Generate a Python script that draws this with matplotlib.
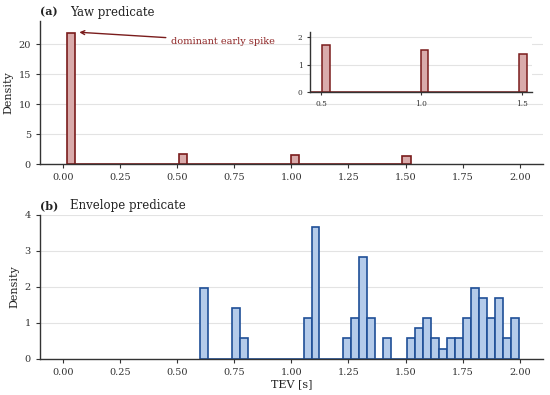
import numpy as np
import matplotlib
matplotlib.use("Agg")
import matplotlib.pyplot as plt

# yaw predicate: histogram bins (40 equal bins) and the occupied bins
yaw_range = (0.0175, 1.524)
yaw_n_bins = 40
yaw_tev = [0.036, 0.525, 1.017, 1.505]
yaw_counts = [315, 25, 22, 20]

# envelope predicate: 40 equal bins, counts per bin
env_range = (0.600, 1.995)
env_counts = [7, 0, 0, 0, 5, 2, 0, 0, 0, 0,
              0, 0, 0, 4, 13, 0, 0, 0, 2, 4,
              10, 4, 0, 2, 0, 0, 2, 3, 4, 2,
              1, 2, 2, 4, 7, 6, 4, 6, 2, 4]

xticks = [0.00, 0.25, 0.50, 0.75, 1.00, 1.25, 1.50, 1.75, 2.00]

plt.rcParams["font.family"] = ["DejaVu Serif"]

red_edge = "#7a1c1c"
red_face = "#d9abab"
blue_edge = "#1f4f97"
blue_face = "#b4cbea"
spine_col = "#333333"
grid_col = "#e3e3e3"
txt_col = "#222222"


def style(ax, fs=7):
    for s in ["top", "right"]:
        ax.spines[s].set_visible(False)
    for s in ["left", "bottom"]:
        ax.spines[s].set_color(spine_col)
        ax.spines[s].set_linewidth(1.0)
    ax.grid(axis="y", color=grid_col, lw=0.8)
    ax.set_axisbelow(True)
    ax.tick_params(labelsize=fs, colors="#333333", length=3, width=0.8)


fig = plt.figure(figsize=(5.5, 3.95), dpi=100)

# panel (a)
ax1 = fig.add_axes([0.0727, 0.584, 0.914, 0.3636])
yaw_edges = np.linspace(yaw_range[0], yaw_range[1], yaw_n_bins + 1)
ax1.hist(yaw_tev, bins=yaw_edges, weights=yaw_counts, density=True,
         color=red_face, edgecolor=red_edge, linewidth=1.2)
style(ax1)
ax1.set_xlim(-0.1, 2.1)
ax1.set_ylim(0, 23.9)
ax1.set_xticks(xticks)
ax1.set_xticklabels([f"{t:.2f}" for t in xticks])
ax1.set_yticks([0, 5, 10, 15, 20])
ax1.set_ylabel("Density", fontsize=8, color=txt_col)
ax1.text(0.0, 1.06, "(a)", transform=ax1.transAxes, fontsize=8,
         fontweight="bold", va="center", color=txt_col)
ax1.text(0.06, 1.06, "Yaw predicate", transform=ax1.transAxes, fontsize=8.5,
         va="center", color=txt_col)
ax1.annotate("dominant early spike", xy=(0.06, 22.0), xytext=(0.475, 20.5),
             fontsize=7, color="#8f2626", va="center",
             arrowprops=dict(arrowstyle="->", color=red_edge, lw=1.0))

# inset zoom of the small bins
axi = fig.add_axes([0.5636, 0.767, 0.4036, 0.152])
axi.set_facecolor("white")
axi.hist(yaw_tev, bins=yaw_edges, weights=yaw_counts, density=True,
         color=red_face, edgecolor=red_edge, linewidth=1.1)
style(axi, fs=5.3)
axi.tick_params(length=2)
axi.set_xlim(0.445, 1.55)
axi.set_ylim(0, 2.2)
axi.set_xticks([0.5, 1.0, 1.5])
axi.set_yticks([0, 1, 2])

# panel (b)
ax2 = fig.add_axes([0.0727, 0.0919, 0.914, 0.3646])
env_edges = np.linspace(env_range[0], env_range[1], len(env_counts) + 1)
env_centers = (env_edges[:-1] + env_edges[1:]) / 2
ax2.hist(env_centers, bins=env_edges, weights=env_counts, density=True,
         color=blue_face, edgecolor=blue_edge, linewidth=1.2)
style(ax2)
ax2.set_xlim(-0.1, 2.1)
ax2.set_ylim(0, 4)
ax2.set_xticks(xticks)
ax2.set_xticklabels([f"{t:.2f}" for t in xticks])
ax2.set_yticks([0, 1, 2, 3, 4])
ax2.set_ylabel("Density", fontsize=8, color=txt_col)
ax2.set_xlabel("TEV [s]", fontsize=8, color=txt_col, labelpad=2)
ax2.text(0.0, 1.065, "(b)", transform=ax2.transAxes, fontsize=8,
         fontweight="bold", va="center", color=txt_col)
ax2.text(0.06, 1.065, "Envelope predicate", transform=ax2.transAxes,
         fontsize=8.5, va="center", color=txt_col)

fig.savefig("out.png", dpi=100)
